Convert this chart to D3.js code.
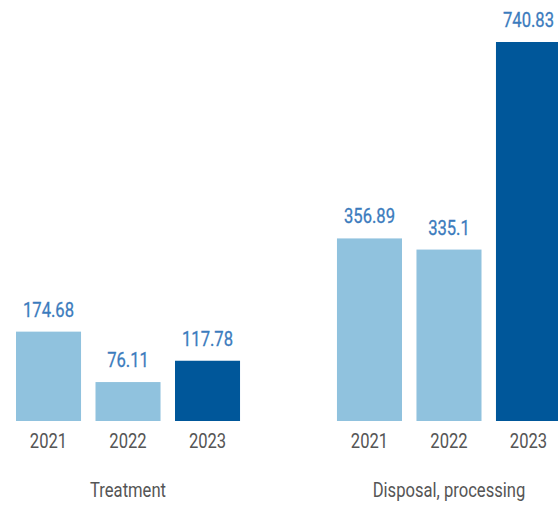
<!DOCTYPE html>
<html>
<head>
<meta charset="utf-8">
<script src="https://cdn.jsdelivr.net/npm/d3@7"></script>
<style>
  body { margin: 0; background: #fff; }
  svg text { font-family: Roboto, "DejaVu Sans Condensed", sans-serif; }
</style>
</head>
<body>
<div id="chart"></div>
<script>
// data
var groups = ["Treatment", "Disposal, processing"];
var years = ["2021", "2022", "2023"];
var treatment = [174.68, 76.11, 117.78];
var disposal = [356.89, 335.1, 740.83];

var width = 558, height = 505;
var baseY = 421, topY = 42;
var squeeze = 0.83; // fake a condensed face

var chartData = [];
groups.forEach(function(g, gi) {
    var vals = gi === 0 ? treatment : disposal;
    years.forEach(function(y, i) {
        chartData.push({group: g, year: y, value: vals[i]});
    });
});

var svg = d3.select("#chart")
    .append("svg")
    .attr("width", width)
    .attr("height", height);

// set up the scales
var x0 = d3.scaleBand()
    .domain(groups)
    .range([16, 561])
    .paddingInner(0.302);

var x1 = d3.scaleBand()
    .domain(years)
    .range([0, x0.bandwidth()])
    .paddingInner(0.182);

var y = d3.scaleLinear()
    .domain([0, d3.max(chartData, function(d) { return d.value; })])
    .range([baseY, topY]);

var color = function(d) { return d.year === "2023" ? "#00579a" : "#90c2de"; };
var cx = function(d) { return x0(d.group) + x1(d.year) + x1.bandwidth() / 2; };

// bars
svg.selectAll(".bar")
    .data(chartData)
    .enter()
    .append("rect")
    .attr("class", "bar")
    .attr("x", function(d) { return x0(d.group) + x1(d.year); })
    .attr("y", function(d) { return y(d.value); })
    .attr("width", x1.bandwidth())
    .attr("height", function(d) { return baseY - y(d.value); })
    .attr("fill", color);

// value labels
svg.selectAll(".val")
    .data(chartData)
    .enter()
    .append("text")
    .attr("class", "val")
    .attr("transform", function(d) {
        return "translate(" + cx(d) + "," + (y(d.value) - 15) + ") scale(" + squeeze + ",1)";
    })
    .attr("text-anchor", "middle")
    .attr("font-size", 20)
    .attr("fill", "#3b7bbd")
    .attr("stroke", "#3b7bbd")
    .attr("stroke-width", 0.3)
    .text(function(d) { return d.value; });

// year labels
svg.selectAll(".yr")
    .data(chartData)
    .enter()
    .append("text")
    .attr("class", "yr")
    .attr("transform", function(d) { return "translate(" + cx(d) + ",448) scale(" + squeeze + ",1)"; })
    .attr("text-anchor", "middle")
    .attr("font-size", 20)
    .attr("fill", "#555555")
    .text(function(d) { return d.year; });

// group labels
svg.selectAll(".grp")
    .data(groups)
    .enter()
    .append("text")
    .attr("class", "grp")
    .attr("transform", function(d) {
        return "translate(" + (x0(d) + x0.bandwidth() / 2) + ",497) scale(" + squeeze + ",1)";
    })
    .attr("text-anchor", "middle")
    .attr("font-size", 20)
    .attr("fill", "#555555")
    .text(function(d) { return d; });
</script>
</body>
</html>
